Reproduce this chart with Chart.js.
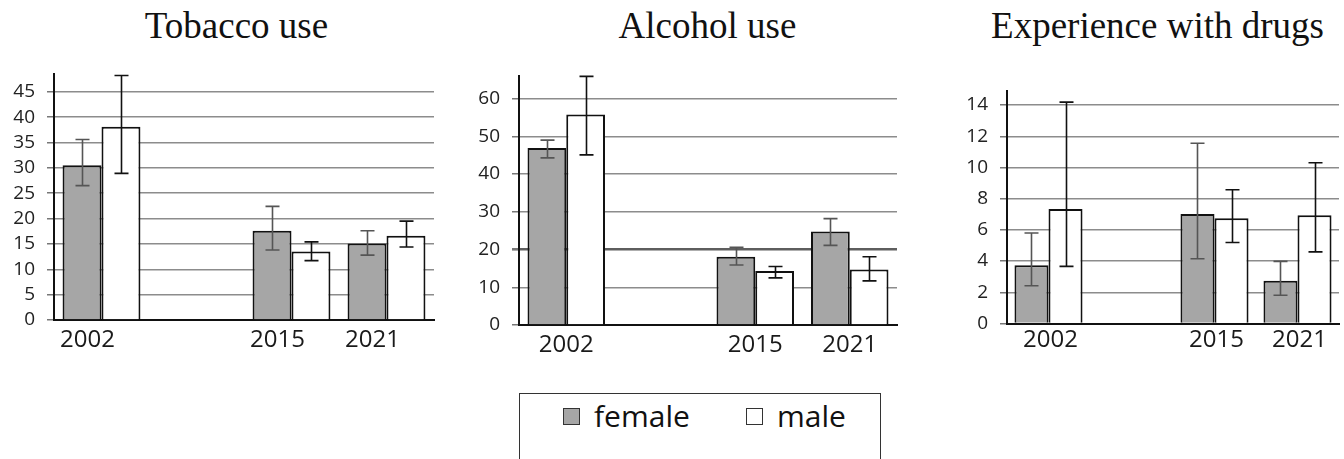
<!DOCTYPE html>
<html>
<head>
<meta charset="utf-8">
<script src="https://cdn.jsdelivr.net/npm/chart.js@4.4.1/dist/chart.umd.min.js"></script>
<style>
  html, body { margin: 0; padding: 0; background: #fff; }
  #page { position: relative; width: 1344px; height: 459px; overflow: hidden; background: #fff; }
  .panel { position: absolute; top: 60px; height: 300px; }
  .title {
    position: absolute; top: 7px; transform: translateX(-50%);
    font-family: "Liberation Serif", "Times New Roman", serif; font-size: 37px; line-height: 37px;
    color: #111; white-space: nowrap;
  }
  #legend {
    position: absolute; left: 519px; top: 393px; width: 362px; height: 80px;
    border: 1.5px solid #333; box-sizing: border-box;
    font-family: "Open Sans", sans-serif; font-size: 30px; color: #111;
  }
  .sw { position: absolute; width: 17px; height: 17px; box-sizing: border-box; border: 1.5px solid #333; top: 14px; }
  .lt { position: absolute; top: 2px; line-height: 40px; }
</style>
</head>
<body>
<div id="page">
  <div class="title" style="left:236.5px">Tobacco use</div>
  <div class="title" style="left:707.5px">Alcohol use</div>
  <div class="title" style="left:1157.5px">Experience with drugs</div>

  <div class="panel" style="left:0px;width:450px"><canvas id="c1" width="450" height="300"></canvas></div>
  <div class="panel" style="left:450px;width:450px"><canvas id="c2" width="450" height="300"></canvas></div>
  <div class="panel" style="left:900px;width:444px"><canvas id="c3" width="444" height="300"></canvas></div>

  <div id="legend">
    <span class="sw" style="left:43px;background:#a6a6a6"></span><span class="lt" style="left:74px">female</span>
    <span class="sw" style="left:226px;background:#fff"></span><span class="lt" style="left:257px">male</span>
  </div>
</div>

<script>
// Survey years; the blank slot keeps the gap between 2002 and 2015
const years = ['2002', '', '2015', '2021'];

// Tobacco use (%)
const tobaccoFemale     = [30.5, null, 17.6, 15.1];
const tobaccoFemaleLow  = [26.5, null, 13.8, 12.8];
const tobaccoFemaleHigh = [35.6, null, 22.4, 17.6];
const tobaccoMale       = [38.1, null, 13.5, 16.6];
const tobaccoMaleLow    = [28.9, null, 11.7, 14.4];
const tobaccoMaleHigh   = [48.2, null, 15.4, 19.5];

// Alcohol use (%)
const alcoholFemale     = [46.9, null, 18.1, 24.8];
const alcoholFemaleLow  = [44.3, null, 15.9, 21.1];
const alcoholFemaleHigh = [49.0, null, 20.6, 28.2];
const alcoholMale       = [55.8, null, 14.3, 14.7];
const alcoholMaleLow    = [45.1, null, 12.5, 11.7];
const alcoholMaleHigh   = [65.9, null, 15.5, 18.1];

// Experience with drugs (%)
const drugsFemale     = [3.74, null, 7.02, 2.74];
const drugsFemaleLow  = [2.42, null, 4.15, 1.81];
const drugsFemaleHigh = [5.80, null, 11.55, 3.98];
const drugsMale       = [7.34, null, 6.74, 6.94];
const drugsMaleLow    = [3.66, null, 5.19, 4.59];
const drugsMaleHigh   = [14.19, null, 8.57, 10.30];

// Y axis ranges and tick steps for each panel
const tobaccoAxis = { max: 48.5, step: 5 };
const alcoholAxis = { max: 66, step: 10 };
const drugsAxis   = { max: 14.9, step: 2 };

const FEMALE_FILL = '#a6a6a6';
const MALE_FILL = '#ffffff';

// Draws the confidence intervals on top of the bars
const errorBars = {
  id: 'errorBars',
  afterDatasetsDraw(chart) {
    const ctx = chart.ctx;
    const yScale = chart.scales.y;
    chart.data.datasets.forEach((ds, di) => {
      const meta = chart.getDatasetMeta(di);
      meta.data.forEach((bar, i) => {
        const lo = ds.errLow[i], hi = ds.errHigh[i];
        if (lo == null || hi == null) return;
        const x = Math.round(bar.x) + 0.5;
        const yl = yScale.getPixelForValue(lo);
        const yh = yScale.getPixelForValue(hi);
        const cap = 7;
        ctx.save();
        ctx.strokeStyle = ds.errColor;
        ctx.lineWidth = 1.6;
        ctx.beginPath();
        ctx.moveTo(x, yl); ctx.lineTo(x, yh);
        ctx.moveTo(x - cap, yl); ctx.lineTo(x + cap, yl);
        ctx.moveTo(x - cap, yh); ctx.lineTo(x + cap, yh);
        ctx.stroke();
        ctx.restore();
      });
    });
  }
};

function makePanel(id, cfg) {
  const ctx = document.getElementById(id);
  return new Chart(ctx, {
    type: 'bar',
    data: {
      labels: years,
      datasets: [
        {
          label: 'female', data: cfg.female, errLow: cfg.femaleLow, errHigh: cfg.femaleHigh,
          errColor: '#555555', backgroundColor: FEMALE_FILL, borderColor: '#111', borderWidth: 2,
          categoryPercentage: 0.82, barPercentage: 1.0
        },
        {
          label: 'male', data: cfg.male, errLow: cfg.maleLow, errHigh: cfg.maleHigh,
          errColor: '#111111', backgroundColor: MALE_FILL, borderColor: '#111', borderWidth: 2,
          categoryPercentage: 0.82, barPercentage: 1.0
        }
      ]
    },
    options: {
      responsive: false,
      animation: false,
      layout: { padding: { top: cfg.padTop, right: cfg.padRight, left: 0, bottom: 0 } },
      plugins: { legend: { display: false }, title: { display: false }, tooltip: { enabled: false } },
      scales: {
        x: {
          grid: { display: false, drawTicks: false },
          border: { display: true, color: '#111', width: 2 },
          ticks: {
            font: { family: 'Open Sans', size: 24 }, color: '#1a1a1a',
            padding: cfg.xPad, labelOffset: cfg.labelOffset, maxRotation: 0, autoSkip: false
          },
          afterFit(scale) { scale.height = cfg.xHeight; scale.paddingLeft = 0; scale.paddingRight = 0; }
        },
        y: {
          min: 0, max: cfg.axis.max,
          grid: {
            color: (c) => cfg.strongLine != null && c.tick && c.tick.value === cfg.strongLine ? '#5e5e5e' : '#8c8c8c',
            lineWidth: (c) => cfg.strongLine != null && c.tick && c.tick.value === cfg.strongLine ? 2.6 : 1.5,
            tickLength: 7, tickColor: '#777'
          },
          border: { display: true, color: '#111', width: 2 },
          ticks: {
            stepSize: cfg.axis.step, font: { family: 'Open Sans', size: 19 }, color: '#222', padding: 12
          },
          afterBuildTicks(scale) {
            // only whole steps get a tick and a gridline; the top of the axis stays unlabeled
            const ticks = [];
            for (let k = 0; k * cfg.axis.step <= cfg.axis.max + 1e-9; k++) {
              ticks.push({ value: +(k * cfg.axis.step).toFixed(6) });
            }
            scale.ticks = ticks;
          },
          afterFit(scale) { scale.width = cfg.yWidth; scale.paddingTop = 0; scale.paddingBottom = 0; }
        }
      }
    },
    plugins: [errorBars]
  });
}

makePanel('c1', {
  female: tobaccoFemale, femaleLow: tobaccoFemaleLow, femaleHigh: tobaccoFemaleHigh,
  male: tobaccoMale, maleLow: tobaccoMaleLow, maleHigh: tobaccoMaleHigh,
  axis: tobaccoAxis, yWidth: 54, padTop: 14, padRight: 16, xHeight: 40, xPad: 6, labelOffset: -14
});
makePanel('c2', {
  female: alcoholFemale, femaleLow: alcoholFemaleLow, femaleHigh: alcoholFemaleHigh,
  male: alcoholMale, maleLow: alcoholMaleLow, maleHigh: alcoholMaleHigh,
  axis: alcoholAxis, yWidth: 69, padTop: 16, padRight: 3, xHeight: 35, xPad: 6, labelOffset: 0, strongLine: 20
});
makePanel('c3', {
  female: drugsFemale, femaleLow: drugsFemaleLow, femaleHigh: drugsFemaleHigh,
  male: drugsMale, maleLow: drugsMaleLow, maleHigh: drugsMaleHigh,
  axis: drugsAxis, yWidth: 107, padTop: 31, padRight: 5, xHeight: 36.5, xPad: 2, labelOffset: 2
});
</script>
</body>
</html>
